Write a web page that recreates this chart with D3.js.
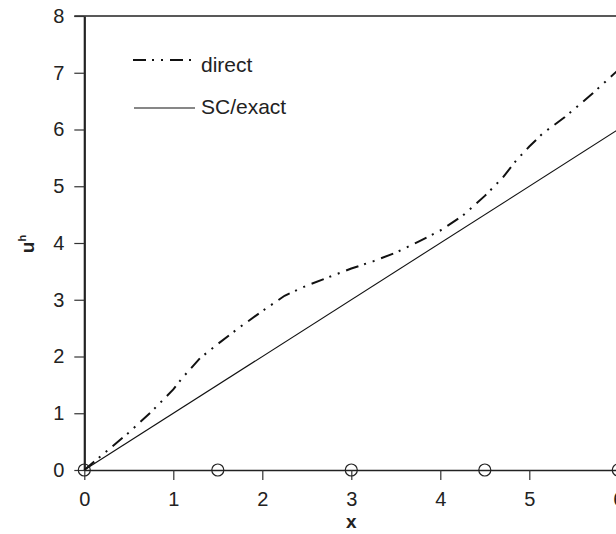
<!DOCTYPE html>
<html>
<head>
<meta charset="utf-8">
<script src="https://cdn.jsdelivr.net/npm/d3@7"></script>
<style>
  html, body { margin: 0; padding: 0; background: #fff; }
  svg { display: block; font-family: "Liberation Sans", Arial, sans-serif; }
</style>
</head>
<body>
<svg id="chart" width="616" height="534"></svg>
<script>
// Numerical solution u^h from the direct method, sampled along x
const directX = [0, 0.25, 0.5, 0.75, 1.0, 1.1, 1.3, 1.5, 1.75, 2.0, 2.25, 2.5, 2.75, 3.0, 3.25, 3.5, 3.75, 4.0, 4.25, 4.5, 4.7, 4.85, 5.0, 5.15, 5.4, 5.7, 6.0];
const directU = [0, 0.33, 0.66, 1.02, 1.42, 1.62, 1.97, 2.22, 2.52, 2.80, 3.07, 3.25, 3.40, 3.55, 3.68, 3.83, 4.02, 4.22, 4.48, 4.83, 5.15, 5.45, 5.70, 5.93, 6.22, 6.62, 7.05];
// SC solution, which coincides with the exact solution u = x
const exactX = [0, 6];
const exactU = [0, 6];
// Mesh nodes
const nodeX = [0, 1.5, 3, 4.5, 6];
const nodeU = [0, 0, 0, 0, 0];
// Axis ticks
const xTicks = [0, 1, 2, 3, 4, 5, 6];
const yTicks = [0, 1, 2, 3, 4, 5, 6, 7, 8];
const legendLabels = ["direct", "SC/exact"];

const svg = d3.select("#chart");
const x = d3.scaleLinear().domain([0, 6]).range([84.3, 618.3]);
const y = d3.scaleLinear().domain([0, 8]).range([470, 16]);

const line = d3.line().x(d => x(d[0])).y(d => y(d[1]));
const dashDot = "13,6,2,7,2,7";
const fontFamily = "'Liberation Sans', Arial, sans-serif";

// Frame line along the top
svg.append("line")
  .attr("x1", x(0) - 10).attr("x2", 616)
  .attr("y1", y(8)).attr("y2", y(8))
  .attr("stroke", "#222").attr("stroke-width", 1.4);

// Left axis
const gy = svg.append("g")
  .attr("transform", `translate(${x(0)},0)`)
  .call(d3.axisLeft(y).tickValues(yTicks).tickFormat(d3.format("d"))
    .tickSize(10).tickPadding(10).tickSizeOuter(0));
gy.select(".domain").attr("stroke", "#222").attr("stroke-width", 2.2);
gy.selectAll(".tick line").attr("stroke", "#333").attr("stroke-width", 1.2);
gy.selectAll(".tick text").attr("font-size", 20).attr("fill", "#222")
  .attr("font-family", fontFamily);

// Bottom axis
const gx = svg.append("g")
  .attr("transform", `translate(0,${y(0)})`)
  .call(d3.axisBottom(x).tickValues(xTicks).tickFormat(d3.format("d"))
    .tickSize(10).tickPadding(12).tickSizeOuter(0));
gx.select(".domain").attr("stroke", "#222").attr("stroke-width", 1.6);
gx.selectAll(".tick line").attr("stroke", "#333").attr("stroke-width", 1.2);
gx.selectAll(".tick text").attr("font-size", 20).attr("fill", "#222")
  .attr("font-family", fontFamily);

// Exact / SC solution
svg.append("path")
  .datum(exactX.map((v, i) => [v, exactU[i]]))
  .attr("d", line)
  .attr("fill", "none").attr("stroke", "#111").attr("stroke-width", 1.1);

// Direct solution
svg.append("path")
  .datum(directX.map((v, i) => [v, directU[i]]))
  .attr("d", line)
  .attr("fill", "none").attr("stroke", "#111").attr("stroke-width", 2)
  .attr("stroke-dasharray", dashDot);

// Node markers
svg.append("g").selectAll("circle")
  .data(nodeX.map((v, i) => [v, nodeU[i]]))
  .join("circle")
  .attr("cx", d => x(d[0])).attr("cy", d => y(d[1])).attr("r", 6)
  .attr("fill", "none").attr("stroke", "#222").attr("stroke-width", 1.2);

// Legend
const legend = svg.append("g");
const legendLineY = [60, 108];
const legendTextY = [72, 114];
legend.append("line")
  .attr("x1", 133).attr("x2", 192).attr("y1", legendLineY[0]).attr("y2", legendLineY[0])
  .attr("stroke", "#111").attr("stroke-width", 2).attr("stroke-dasharray", dashDot);
legend.append("line")
  .attr("x1", 134).attr("x2", 195).attr("y1", legendLineY[1]).attr("y2", legendLineY[1])
  .attr("stroke", "#111").attr("stroke-width", 1.1);
legend.selectAll("text")
  .data(legendLabels)
  .join("text")
  .attr("x", 201).attr("y", (d, i) => legendTextY[i])
  .attr("font-size", 21).attr("fill", "#222")
  .text(d => d);

// Axis titles
svg.append("text")
  .attr("x", x(3)).attr("y", 528)
  .attr("text-anchor", "middle")
  .attr("font-size", 19).attr("font-weight", "bold").attr("fill", "#222")
  .text("x");

const yTitle = svg.append("text")
  .attr("transform", "translate(34,244) rotate(-90)")
  .attr("text-anchor", "middle")
  .attr("font-size", 19).attr("font-weight", "bold").attr("fill", "#222");
yTitle.append("tspan").text("u");
yTitle.append("tspan").attr("font-size", 11).attr("dy", "-0.75em").text("h");
</script>
</body>
</html>
